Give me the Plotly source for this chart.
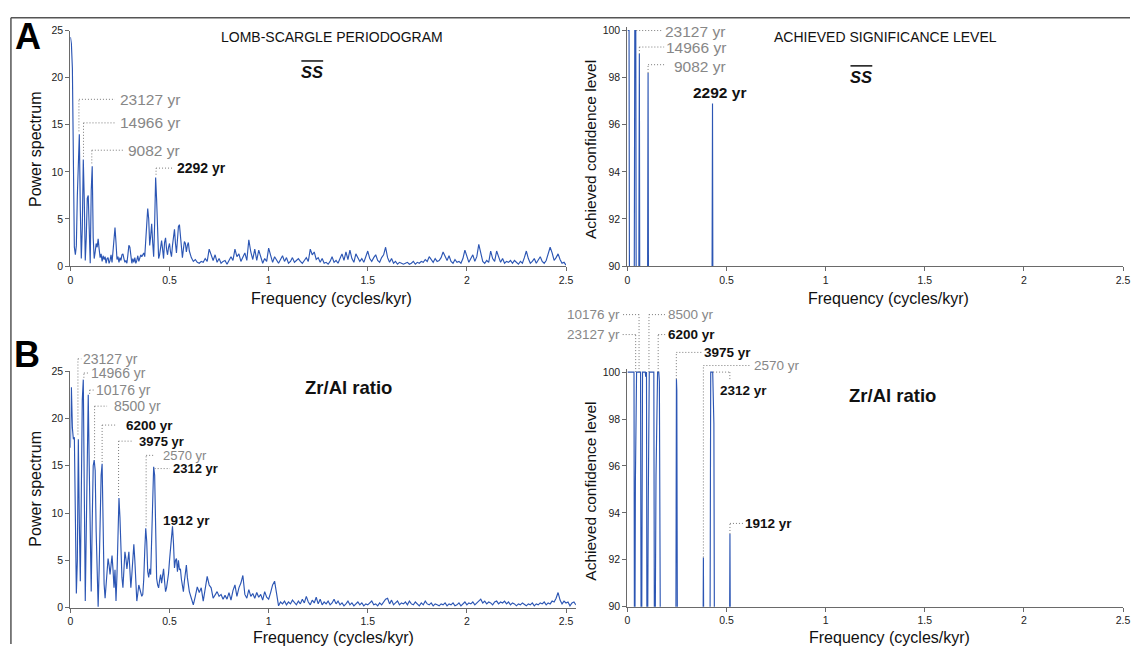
import plotly.graph_objects as go

W, H = 1137, 650
FONT = "Liberation Sans, Arial, sans-serif"

# ---------------- data ----------------
# Power spectra: low-frequency part sampled every LOW_STEP from 0 to 0.6 cycles/kyr,
# then every HIGH_STEP from HIGH_START on.
LOW_STEP = 0.005
HIGH_START = 0.61
HIGH_STEP = 0.01

ss_power_low = [
    24.3, 23.6, 21.0, 8.0, 2.0, 1.2, 2.2, 7.5, 12.5, 14.0,
    6.0, 0.8, 4.0, 11.3, 7.0, 0.6, 3.0, 7.2, 7.5, 2.0,
    0.3, 8.0, 10.6, 3.0, 0.8, 1.5, 2.4, 2.0, 2.9, 1.8,
    0.9, 1.3, 0.5, 1.1, 0.7, 1.0, 0.3, 0.8, 0.9, 0.3,
    0.6, 1.2, 0.4, 1.6, 3.5, 4.1, 2.5, 0.7, 1.0, 0.4,
    0.9, 0.6, 1.2, 1.3, 0.8, 0.4, 0.6, 0.3, 1.2, 2.2,
    2.0, 0.7, 0.3, 0.8, 0.4, 0.9, 0.3, 0.6, 1.1, 0.5,
    0.9, 1.2, 1.0, 1.3, 1.4, 1.0, 2.5, 4.8, 6.1, 5.0,
    2.2, 3.2, 4.5, 2.5, 1.0, 4.5, 9.4, 7.0, 2.5, 0.8,
    1.2, 2.0, 2.7, 1.8, 0.8, 2.5, 3.0, 1.8, 1.2, 2.0,
    2.4, 1.5, 1.0, 2.2, 3.5, 3.9, 2.4, 1.4, 2.8, 4.2,
    4.4, 3.0, 1.5, 0.9, 1.8, 2.6, 2.4, 1.5, 2.2, 2.5,
    1.6,
]
ss_power_high = [
    0.9, 0.5, 0.7, 0.4, 0.3, 0.5, 0.4, 0.8, 0.5, 1.8,
    1.2, 0.6, 1.2, 0.4, 0.8, 0.3, 0.5, 0.6, 0.2, 0.7,
    1.0, 0.6, 1.8, 1.0, 1.3, 0.5, 0.9, 1.4, 0.6, 2.8,
    1.5, 0.7, 1.8, 0.6, 1.7, 0.9, 0.3, 0.8, 0.5, 1.9,
    1.2, 0.4, 1.0, 0.6, 0.3, 0.7, 1.1, 0.5, 0.9, 0.3,
    0.5, 0.9, 0.4, 0.6, 0.8, 0.5, 0.3, 0.6, 0.9, 0.5,
    1.8, 1.2, 1.5, 0.7, 0.9, 0.4, 0.8, 0.3, 0.4, 0.2,
    0.5, 1.0, 0.4, 0.6, 0.3, 0.8, 1.3, 0.6, 1.5, 0.7,
    1.7, 0.8, 0.4, 1.3, 0.9, 0.5, 0.8, 0.4, 1.0, 1.6,
    0.8, 0.5, 0.9, 1.2, 0.6, 0.4, 0.9, 1.2, 2.0, 0.9,
    0.4, 0.8, 0.3, 0.5, 0.2, 0.4, 0.3, 0.2, 0.3, 0.4,
    0.2, 0.3, 0.5, 0.2, 0.4, 0.3, 0.5, 0.4, 0.7, 0.5,
    1.0, 0.7, 0.4, 0.8, 0.5, 0.6, 0.9, 1.5, 1.0, 0.6,
    1.1, 0.5, 0.3, 0.7, 0.4, 0.5, 0.3, 0.8, 1.7, 1.0,
    0.4, 0.8, 1.2, 0.5, 1.0, 2.3, 1.2, 0.5, 0.3, 0.6,
    0.4, 1.6, 0.8, 0.5, 1.6, 0.9, 0.4, 0.8, 0.3, 0.5,
    0.4, 0.6, 0.3, 0.6, 0.4, 0.2, 0.5, 0.3, 0.9, 1.6,
    0.8, 0.3, 0.5, 0.8, 0.3, 0.6, 1.0, 0.5, 0.3, 0.6,
    1.2, 2.0, 1.4, 0.6, 0.9, 1.3, 0.7, 0.3, 0.4, 0.1,
]

zr_power_low = [
    16.9, 23.3, 19.0, 17.8, 18.0, 10.0, 1.5, 5.0, 17.8, 9.0,
    2.8, 12.0, 22.0, 24.1, 10.0, 0.7, 8.0, 17.0, 22.5, 15.0,
    5.0, 1.7, 9.0, 15.0, 15.6, 14.5, 8.0, 2.0, 0.1, 4.0,
    10.0, 14.0, 15.2, 9.0, 2.5, 1.0, 2.5, 4.2, 5.2, 4.5,
    3.5, 4.5, 5.5, 4.0, 2.1, 4.0, 0.7, 3.5, 8.5, 11.6,
    9.5, 4.5, 3.2, 2.1, 4.0, 5.9, 5.2, 4.1, 5.0, 5.9,
    4.0, 2.1, 3.5, 5.8, 6.7, 5.0, 2.5, 0.7, 1.5, 2.4,
    2.0, 1.7, 1.2, 1.4, 3.0, 6.0, 8.4, 7.0, 3.8, 3.2,
    4.1, 3.5, 7.0, 12.0, 14.9, 14.0, 8.0, 3.1, 2.4, 2.1,
    2.9, 3.5, 2.6, 3.4, 4.1, 2.8, 1.7, 2.1, 2.8, 3.6,
    5.0, 6.6, 8.0, 8.6, 6.8, 4.2, 5.0, 5.2, 3.8, 5.0,
    4.0, 4.1, 3.0, 2.0, 1.7, 2.8, 4.0, 4.5, 3.2, 2.2,
    1.7,
]
zr_power_high = [
    1.0, 0.3, 1.2, 2.2, 1.6, 2.1, 0.7, 1.8, 3.3, 2.4,
    2.1, 1.0, 1.3, 1.7, 1.2, 1.4, 0.9, 1.3, 0.9, 1.6,
    0.8, 1.8, 2.4, 1.2, 2.1, 2.6, 3.4, 1.4, 1.0, 1.9,
    1.2, 1.5, 1.0, 1.6, 1.1, 1.4, 0.8, 1.7, 1.1, 0.9,
    1.6, 2.4, 2.8, 1.6, 0.2, 0.6, 0.4, 0.7, 0.3, 0.6,
    0.4, 0.8, 0.5, 0.3, 0.7, 0.4, 0.9, 0.5, 1.2, 0.6,
    0.3, 0.8, 0.5, 1.1, 0.4, 0.9, 0.3, 0.6, 0.4, 0.7,
    0.3, 0.5, 0.9, 0.4, 0.7, 0.3, 0.5, 0.2, 0.4, 0.7,
    0.3, 0.5, 0.2, 0.4, 0.6, 0.3, 0.5, 0.2, 0.4, 0.3,
    0.5, 0.7, 0.3, 0.4, 0.2, 0.5, 0.3, 0.6, 0.9, 1.0,
    0.4, 0.8, 0.3, 0.5, 0.7, 0.3, 0.5, 0.4, 0.6, 0.3,
    0.7, 0.4, 0.3, 0.6, 0.4, 0.2, 0.5, 0.3, 0.7, 0.4,
    0.3, 0.5, 0.2, 0.4, 0.3, 0.2, 0.4, 0.3, 0.5, 0.2,
    0.4, 0.3, 0.5, 0.2, 0.3, 0.5, 0.2, 0.4, 0.6, 0.3,
    0.5, 0.4, 0.6, 0.3, 0.5, 0.7, 0.9, 0.5, 0.7, 0.4,
    0.6, 0.5, 0.3, 0.6, 0.7, 0.4, 0.6, 0.5, 0.7, 0.4,
    0.6, 0.3, 0.5, 0.4, 0.2, 0.4, 0.3, 0.5, 0.3, 0.2,
    0.4, 0.3, 0.5, 0.2, 0.4, 0.3, 0.5, 0.4, 0.6, 0.3,
    0.5, 0.4, 0.7, 0.6, 1.0, 1.6, 0.8, 0.4, 0.7, 0.5,
    0.6, 0.2, 0.5, 0.6, 0.3,
]

# Achieved significance level (%): values below 90 fall outside the visible axis
ss_asl_freq = [0.000, 0.008, 0.011, 0.033, 0.037, 0.042, 0.045, 0.056, 0.060, 0.063,
               0.100, 0.104, 0.107, 0.425, 0.429, 0.432]
ss_asl_level = [100.0, 100.0, 84.0, 84.0, 100.0, 100.0, 84.0, 84.0, 99.0, 84.0,
                84.0, 98.2, 84.0, 84.0, 96.9, 84.0]

zr_asl_freq = [0.000, 0.033, 0.036, 0.040, 0.046, 0.066, 0.070, 0.076, 0.090, 0.092,
               0.096, 0.099, 0.105, 0.110, 0.133, 0.137, 0.144, 0.152, 0.158, 0.161,
               0.168, 0.243, 0.247, 0.249, 0.253, 0.379, 0.383, 0.387, 0.415, 0.420,
               0.430, 0.436, 0.440, 0.513, 0.517, 0.521]
zr_asl_level = [100.0, 100.0, 84.0, 95.3, 100.0, 100.0, 84.0, 100.0, 100.0, 99.8,
                100.0, 84.0, 94.5, 100.0, 100.0, 84.0, 95.6, 100.0, 100.0, 99.6,
                84.0, 84.0, 99.7, 99.2, 84.0, 84.0, 92.1, 84.0, 84.0, 100.0,
                100.0, 97.8, 84.0, 84.0, 93.1, 84.0]

freq_ticks = [0, 0.5, 1, 1.5, 2, 2.5]
freq_tick_text = ["0", "0.5", "1", "1.5", "2", "2.5"]
power_ticks = [0, 5, 10, 15, 20, 25]
asl_ticks = [90, 92, 94, 96, 98, 100]

ss_power_labels = ["23127 yr", "14966 yr", "9082 yr", "2292 yr"]
ss_asl_labels = ["23127 yr", "14966 yr", "9082 yr", "2292 yr"]
zr_power_labels = ["23127 yr", "14966 yr", "10176 yr", "8500 yr", "6200 yr",
                   "3975 yr", "2570 yr", "2312 yr", "1912 yr"]
zr_asl_labels = ["10176 yr", "23127 yr", "8500 yr", "6200 yr", "3975 yr",
                 "2570 yr", "2312 yr", "1912 yr"]


def spectrum(low, high):
    f = [round(i * LOW_STEP, 4) for i in range(len(low))]
    f += [round(HIGH_START + i * HIGH_STEP, 4) for i in range(len(high))]
    return f, list(low) + list(high)


# ---------------- layout ----------------
PANELS = {
    "A1": dict(x="x", y="y", xpx=(68, 568), ypx=(25, 265), xr=[0, 2.5], yr=[0, 25], yt=power_ticks),
    "A2": dict(x="x2", y="y2", xpx=(630, 1130), ypx=(21.4, 265), xr=[0, 2.5], yr=[90, 100.15], yt=asl_ticks),
    "B1": dict(x="x3", y="y3", xpx=(68, 578), ypx=(372, 613), xr=[0, 2.55], yr=[0, 25], yt=power_ticks),
    "B2": dict(x="x4", y="y4", xpx=(630, 1130), ypx=(369.4, 612), xr=[0, 2.5], yr=[90, 100.15], yt=asl_ticks),
}

BLUE = "#2c56b4"
GRAY_TXT = "#878787"
BLACK_TXT = "#111111"
LEADER = "#7a7a7a"
AXIS = "#6a6a6a"

fig = go.Figure()
shapes = []
annotations = []


def axname(i):
    return i[0] + "axis" + i[1:]


layout_axes = {}
for key, p in PANELS.items():
    common = dict(showline=True, linecolor=AXIS, linewidth=1.3, ticks="outside", ticklen=4,
                  tickwidth=1, tickcolor=AXIS, showgrid=False, zeroline=False,
                  tickfont=dict(family=FONT, size=10.5, color="#222"), fixedrange=True)
    layout_axes[axname(p["x"])] = dict(common, domain=[p["xpx"][0] / W, p["xpx"][1] / W],
                                       range=p["xr"], anchor=p["y"], tickvals=freq_ticks,
                                       ticktext=freq_tick_text)
    layout_axes[axname(p["y"])] = dict(common, domain=[1 - p["ypx"][1] / H, 1 - p["ypx"][0] / H],
                                       range=p["yr"], anchor=p["x"], tickvals=p["yt"])

series = {
    "A1": spectrum(ss_power_low, ss_power_high),
    "A2": (ss_asl_freq, ss_asl_level),
    "B1": spectrum(zr_power_low, zr_power_high),
    "B2": (zr_asl_freq, zr_asl_level),
}
for key, (fx, fy) in series.items():
    p = PANELS[key]
    fig.add_trace(go.Scatter(x=fx, y=fy, mode="lines", xaxis=p["x"], yaxis=p["y"],
                             line=dict(color=BLUE, width=1.15), showlegend=False,
                             hoverinfo="skip"))


def to_paper(panel, f, v):
    """Map a (frequency, value) pair of a panel to paper coordinates (not clipped)."""
    p = PANELS[panel]
    (x0, x1), (t, b), xr, yr = p["xpx"], p["ypx"], p["xr"], p["yr"]
    px = x0 + (f - xr[0]) / (xr[1] - xr[0]) * (x1 - x0)
    py = b - (v - yr[0]) / (yr[1] - yr[0]) * (b - t)
    return px / W, 1 - py / H


def callout(panel, text, bold, size, path, at, anchor="left"):
    for (f0, v0), (f1, v1) in zip(path[:-1], path[1:]):
        ax0, ay0 = to_paper(panel, f0, v0)
        ax1, ay1 = to_paper(panel, f1, v1)
        shapes.append(dict(type="line", xref="paper", yref="paper",
                           x0=ax0, y0=ay0, x1=ax1, y1=ay1,
                           line=dict(color=LEADER, width=1, dash="1px,2px")))
    tx, ty = to_paper(panel, at[0], at[1])
    annotations.append(dict(xref="paper", yref="paper", x=tx, y=ty,
                            text=("<b>%s</b>" % text) if bold else text, showarrow=False,
                            xanchor=anchor, yanchor="middle", borderpad=0,
                            font=dict(family=FONT, size=size,
                                      color=BLACK_TXT if bold else GRAY_TXT)))


# Panel A, periodogram
callout("A1", ss_power_labels[0], False, 15.5, [(0.043, 14.3), (0.043, 17.7), (0.225, 17.7)], (0.245, 17.7))
callout("A1", ss_power_labels[1], False, 15.5, [(0.066, 11.6), (0.066, 15.2), (0.225, 15.2)], (0.245, 15.2))
callout("A1", ss_power_labels[2], False, 15.5, [(0.108, 10.9), (0.108, 12.3), (0.27, 12.3)], (0.285, 12.3))
callout("A1", ss_power_labels[3], True, 14, [(0.432, 9.7), (0.432, 10.4), (0.52, 10.4)], (0.535, 10.4))
# Panel A, significance
callout("A2", ss_asl_labels[0], False, 15.5, [(0.044, 100.0), (0.175, 100.0)], (0.183, 99.95))
callout("A2", ss_asl_labels[1], False, 15.5, [(0.060, 99.0), (0.060, 99.3), (0.185, 99.3)], (0.19, 99.3))
callout("A2", ss_asl_labels[2], False, 15.5, [(0.104, 98.2), (0.104, 98.55), (0.185, 98.55)], (0.23, 98.47))
callout("A2", ss_asl_labels[3], True, 15.5, [], (0.465, 97.36), "center")
# Panel B, periodogram
callout("B1", zr_power_labels[0], False, 14, [(0.038, 18.3), (0.038, 26.3), (0.055, 26.3)], (0.06, 26.3))
callout("B1", zr_power_labels[1], False, 14, [(0.068, 24.3), (0.068, 24.8), (0.093, 24.8)], (0.097, 24.8))
callout("B1", zr_power_labels[2], False, 14, [(0.097, 22.6), (0.097, 23.0), (0.118, 23.0)], (0.123, 23.0))
callout("B1", zr_power_labels[3], False, 14, [(0.122, 15.8), (0.122, 21.3), (0.185, 21.3)], (0.215, 21.3))
callout("B1", zr_power_labels[4], True, 13.5, [(0.16, 15.4), (0.16, 19.3), (0.227, 19.3)], (0.277, 19.3))
callout("B1", zr_power_labels[5], True, 13, [(0.243, 11.8), (0.243, 17.6), (0.318, 17.6)], (0.34, 17.6))
callout("B1", zr_power_labels[6], False, 13, [(0.382, 8.6), (0.382, 16.1), (0.418, 16.1)], (0.46, 16.1))
callout("B1", zr_power_labels[7], True, 13, [(0.425, 14.7), (0.502, 14.7)], (0.51, 14.7))
callout("B1", zr_power_labels[8], True, 13.5, [], (0.46, 9.2))
# Panel B, significance
callout("B2", zr_asl_labels[0], False, 13.5, [(0.0585, 100.0), (0.0585, 102.45), (-0.03, 102.45)], (-0.034, 102.45), "right")
callout("B2", zr_asl_labels[1], False, 13.5, [(0.0415, 100.0), (0.0415, 101.6), (-0.03, 101.6)], (-0.034, 101.6), "right")
callout("B2", zr_asl_labels[2], False, 13.5, [(0.1085, 100.0), (0.1085, 102.45), (0.19, 102.45)], (0.197, 102.45))
callout("B2", zr_asl_labels[3], True, 13.5, [(0.155, 100.0), (0.155, 101.6), (0.19, 101.6)], (0.2, 101.6))
callout("B2", zr_asl_labels[4], True, 13.5, [(0.2465, 99.7), (0.2465, 100.84), (0.375, 100.84)], (0.383, 100.84))
callout("B2", zr_asl_labels[5], False, 13.5, [(0.383, 92.1), (0.383, 100.28), (0.615, 100.28)], (0.633, 100.28))
callout("B2", zr_asl_labels[6], True, 13.5, [(0.432, 100.0), (0.5165, 100.0), (0.5165, 99.7)], (0.585, 99.23), "center")
callout("B2", zr_asl_labels[7], True, 13.5, [(0.517, 93.1), (0.517, 93.55), (0.583, 93.55)], (0.59, 93.53))


def ptext(text, x, y, size, color="#111", angle=0, anchor="center"):
    annotations.append(dict(xref="paper", yref="paper", x=x / W, y=1 - y / H, text=text,
                            showarrow=False, xanchor=anchor, yanchor="middle", textangle=angle,
                            font=dict(family=FONT, size=size, color=color)))


ptext("<b>A</b>", 25, 31, 36, "#000")
ptext("<b>B</b>", 24, 355, 36, "#000")
ptext("LOMB-SCARGLE PERIODOGRAM", 332, 32, 14)
ptext("ACHIEVED SIGNIFICANCE LEVEL", 890, 32, 14)
ptext("<b><i>SS</i></b>", 311.5, 67, 16.5)
ptext("<b><i>SS</i></b>", 866, 72, 16.5)
ptext("<b>Zr/Al ratio</b>", 349, 389, 18.5)
ptext("<b>Zr/Al ratio</b>", 897.5, 397, 18.5)
for xt, yt in [(331, 298), (893, 298), (333, 643), (894, 643)]:
    ptext("Frequency (cycles/kyr)", xt, yt, 16)
ptext("Power spectrum", 33, 146, 16, angle=-90)
ptext("Power spectrum", 33, 492, 16, angle=-90)
ptext("Achieved confidence level", 593, 146, 15.5, angle=-90)
ptext("Achieved confidence level", 593, 494, 15.5, angle=-90)

# overlines on SS
for x0, x1, yy in [(301, 323, 56), (855, 877, 61)]:
    shapes.append(dict(type="line", xref="paper", yref="paper", x0=x0 / W, x1=x1 / W,
                       y0=1 - yy / H, y1=1 - yy / H, line=dict(color="#111", width=1.5)))

# figure frame
shapes.append(dict(type="line", xref="paper", yref="paper", x0=8 / W, x1=1, y0=1 - 12 / H,
                   y1=1 - 12 / H, line=dict(color="#555", width=1.5)))
shapes.append(dict(type="line", xref="paper", yref="paper", x0=8 / W, x1=8 / W, y0=0,
                   y1=1 - 12 / H, line=dict(color="#555", width=1.5)))

fig.update_layout(width=W, height=H, margin=dict(l=0, r=0, t=0, b=0),
                  paper_bgcolor="white", plot_bgcolor="white", showlegend=False,
                  shapes=shapes, annotations=annotations, **layout_axes)

fig.write_html("out.html", config={"displayModeBar": False})
